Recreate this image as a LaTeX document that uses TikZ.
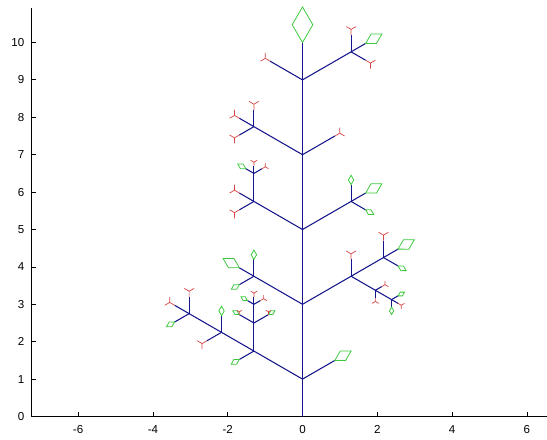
\documentclass[tikz,border=0pt]{standalone}
\usepackage{fontspec}
\setmainfont{Liberation Sans}
\usepackage{xcolor}
\usepackage{tikz}
\definecolor{stemblue}{RGB}{20,20,140}
\definecolor{budred}{RGB}{215,70,70}
\definecolor{leafgreen}{RGB}{60,200,60}
\tikzset{
  branch/.style={draw=stemblue, line width=0.8pt},
  axisline/.style={draw=black, line width=0.6pt},
  ticklabel/.style={font=\fontsize{8.8}{10}\selectfont, inner sep=0pt},
  leaf/.pic={\draw[leafgreen, line width=0.6pt] (0,0) -- (0.5,0.29) -- (1,0) -- (0.5,-0.29) -- cycle;},
  bud/.pic={\draw[budred, line width=0.55pt] (0,0) -- (0.5,0) -- ++(60:0.5) (0.5,0) -- ++(-60:0.5);}
}

\begin{document}
\begin{tikzpicture}
\useasboundingbox (-8.088,-0.628) rectangle (6.537,11.136);
% axes
\draw[axisline] (-7.25,10.92) -- (-7.25,0) -- (6.6,0);
\foreach \y in {0,...,10} {
  \draw[axisline] (-7.25,\y) -- ++(0.13,0);
  \node[ticklabel, anchor=east] (yl\y) at (-7.43,\y) {\y};
}
\foreach \x in {-6,-4,...,6} {
  \draw[axisline] (\x,0) -- ++(0,0.13);
  \node[ticklabel, anchor=north] (xl\x) at (\x,-0.24) {\x};
}

% main stem
\draw[branch] (0,0) -- (0,10);
\pic[rotate=90, scale=0.95] at (0,10) {leaf};

% branches at y=9
\draw[branch] (0,9) -- ++(150:1) coordinate (l9);
\pic[rotate=150, scale=0.3] at (l9) {bud};
\draw[branch] (0,9) -- ++(30:1.5) coordinate (r9);
\draw[branch] (r9) -- ++(90:0.45) coordinate (r9u);
\draw[branch] (r9) -- ++(30:0.45) coordinate (r9f);
\draw[branch] (r9) -- ++(-30:0.45) coordinate (r9d);
\pic[rotate=90, scale=0.3] at (r9u) {bud};
\pic[rotate=30, scale=0.5] at (r9f) {leaf};
\pic[rotate=-30, scale=0.3] at (r9d) {bud};

% branches at y=7
\draw[branch] (0,7) -- ++(150:1.5) coordinate (l7);
\draw[branch] (l7) -- ++(90:0.45) coordinate (l7u);
\draw[branch] (l7) -- ++(150:0.45) coordinate (l7f);
\draw[branch] (l7) -- ++(210:0.45) coordinate (l7d);
\pic[rotate=90, scale=0.3] at (l7u) {bud};
\pic[rotate=150, scale=0.3] at (l7f) {bud};
\pic[rotate=210, scale=0.3] at (l7d) {bud};
\draw[branch] (0,7) -- ++(30:1) coordinate (r7);
\pic[rotate=30, scale=0.3] at (r7) {bud};

% branches at y=5
\draw[branch] (0,5) -- ++(150:1.5) coordinate (l5);
\draw[branch] (l5) -- ++(90:0.75) coordinate (l5u);
\draw[branch] (l5u) -- ++(90:0.2) coordinate (l5uu);
\draw[branch] (l5u) -- ++(150:0.25) coordinate (l5ul);
\draw[branch] (l5u) -- ++(30:0.25) coordinate (l5ur);
\pic[rotate=90, scale=0.2] at (l5uu) {bud};
\pic[rotate=150, scale=0.25] at (l5ul) {leaf};
\pic[rotate=30, scale=0.2] at (l5ur) {bud};
\draw[branch] (l5) -- ++(150:0.45) coordinate (l5f);
\draw[branch] (l5) -- ++(210:0.45) coordinate (l5d);
\pic[rotate=150, scale=0.3] at (l5f) {bud};
\pic[rotate=210, scale=0.3] at (l5d) {bud};
\draw[branch] (0,5) -- ++(30:1.5) coordinate (r5);
\draw[branch] (r5) -- ++(90:0.45) coordinate (r5u);
\draw[branch] (r5) -- ++(30:0.45) coordinate (r5f);
\draw[branch] (r5) -- ++(-30:0.45) coordinate (r5d);
\pic[rotate=90, scale=0.25] at (r5u) {leaf};
\pic[rotate=30, scale=0.5] at (r5f) {leaf};
\pic[rotate=-30, scale=0.25] at (r5d) {leaf};

% branches at y=3
\draw[branch] (0,3) -- ++(150:1.5) coordinate (l3);
\draw[branch] (l3) -- ++(90:0.45) coordinate (l3u);
\draw[branch] (l3) -- ++(150:0.45) coordinate (l3f);
\draw[branch] (l3) -- ++(210:0.45) coordinate (l3d);
\pic[rotate=90, scale=0.25] at (l3u) {leaf};
\pic[rotate=150, scale=0.5] at (l3f) {leaf};
\pic[rotate=210, scale=0.25] at (l3d) {leaf};
\draw[branch] (0,3) -- ++(30:1.5) coordinate (r3);
\draw[branch] (r3) -- ++(90:0.45) coordinate (r3u);
\pic[rotate=90, scale=0.3] at (r3u) {bud};
\draw[branch] (r3) -- ++(30:1) coordinate (r3f);
\draw[branch] (r3f) -- ++(90:0.45) coordinate (r3fu);
\draw[branch] (r3f) -- ++(30:0.45) coordinate (r3ff);
\draw[branch] (r3f) -- ++(-30:0.45) coordinate (r3fd);
\pic[rotate=90, scale=0.3] at (r3fu) {bud};
\pic[rotate=30, scale=0.5] at (r3ff) {leaf};
\pic[rotate=-30, scale=0.25] at (r3fd) {leaf};
\draw[branch] (r3) -- ++(-30:0.75) coordinate (r3d);
\draw[branch] (r3d) -- ++(30:0.2) coordinate (r3du);
\draw[branch] (r3d) -- ++(-90:0.2) coordinate (r3dd);
\pic[rotate=30, scale=0.2] at (r3du) {bud};
\pic[rotate=-90, scale=0.2] at (r3dd) {bud};
\draw[branch] (r3d) -- ++(-30:0.5) coordinate (r3dt);
\draw[branch] (r3dt) -- ++(30:0.2) coordinate (r3dtu);
\draw[branch] (r3dt) -- ++(-90:0.2) coordinate (r3dtd);
\draw[branch] (r3dt) -- ++(-30:0.2) coordinate (r3dtf);
\pic[rotate=30, scale=0.2] at (r3dtu) {leaf};
\pic[rotate=-90, scale=0.2] at (r3dtd) {leaf};
\pic[rotate=-30, scale=0.2] at (r3dtf) {bud};

% branches at y=1
\draw[branch] (0,1) -- ++(30:1) coordinate (r1);
\pic[rotate=30, scale=0.5] at (r1) {leaf};
\draw[branch] (0,1) -- ++(150:1.5) coordinate (l1);
\draw[branch] (l1) -- ++(210:0.45) coordinate (l1d);
\pic[rotate=210, scale=0.25] at (l1d) {leaf};
\draw[branch] (l1) -- ++(90:0.75) coordinate (l1u);
\draw[branch] (l1u) -- ++(90:0.5) coordinate (l1uu);
\draw[branch] (l1uu) -- ++(90:0.2) coordinate (l1uut);
\draw[branch] (l1uu) -- ++(150:0.2) coordinate (l1uul);
\draw[branch] (l1uu) -- ++(30:0.2) coordinate (l1uur);
\pic[rotate=90, scale=0.2] at (l1uut) {bud};
\pic[rotate=150, scale=0.2] at (l1uul) {leaf};
\pic[rotate=30, scale=0.2] at (l1uur) {bud};
\draw[branch] (l1u) -- ++(150:0.45) coordinate (l1ul);
\draw[branch] (l1u) -- ++(30:0.45) coordinate (l1ur);
\pic[rotate=150, scale=0.2] at (l1ul) {leaf};
\pic[rotate=90, scale=0.15] at (l1ul) {bud};
\pic[rotate=30, scale=0.2] at (l1ur) {leaf};
\pic[rotate=90, scale=0.15] at (l1ur) {bud};
\draw[branch] (l1) -- ++(150:1) coordinate (l1f);
\draw[branch] (l1f) -- ++(90:0.45) coordinate (l1fu);
\draw[branch] (l1f) -- ++(210:0.45) coordinate (l1fd);
\pic[rotate=90, scale=0.25] at (l1fu) {leaf};
\pic[rotate=210, scale=0.3] at (l1fd) {bud};
\draw[branch] (l1f) -- ++(150:1) coordinate (l1ff);
\draw[branch] (l1ff) -- ++(90:0.45) coordinate (l1ffu);
\draw[branch] (l1ff) -- ++(150:0.45) coordinate (l1fff);
\draw[branch] (l1ff) -- ++(210:0.45) coordinate (l1ffd);
\pic[rotate=90, scale=0.3] at (l1ffu) {bud};
\pic[rotate=150, scale=0.3] at (l1fff) {bud};
\pic[rotate=210, scale=0.25] at (l1ffd) {leaf};
\end{tikzpicture}
\end{document}
